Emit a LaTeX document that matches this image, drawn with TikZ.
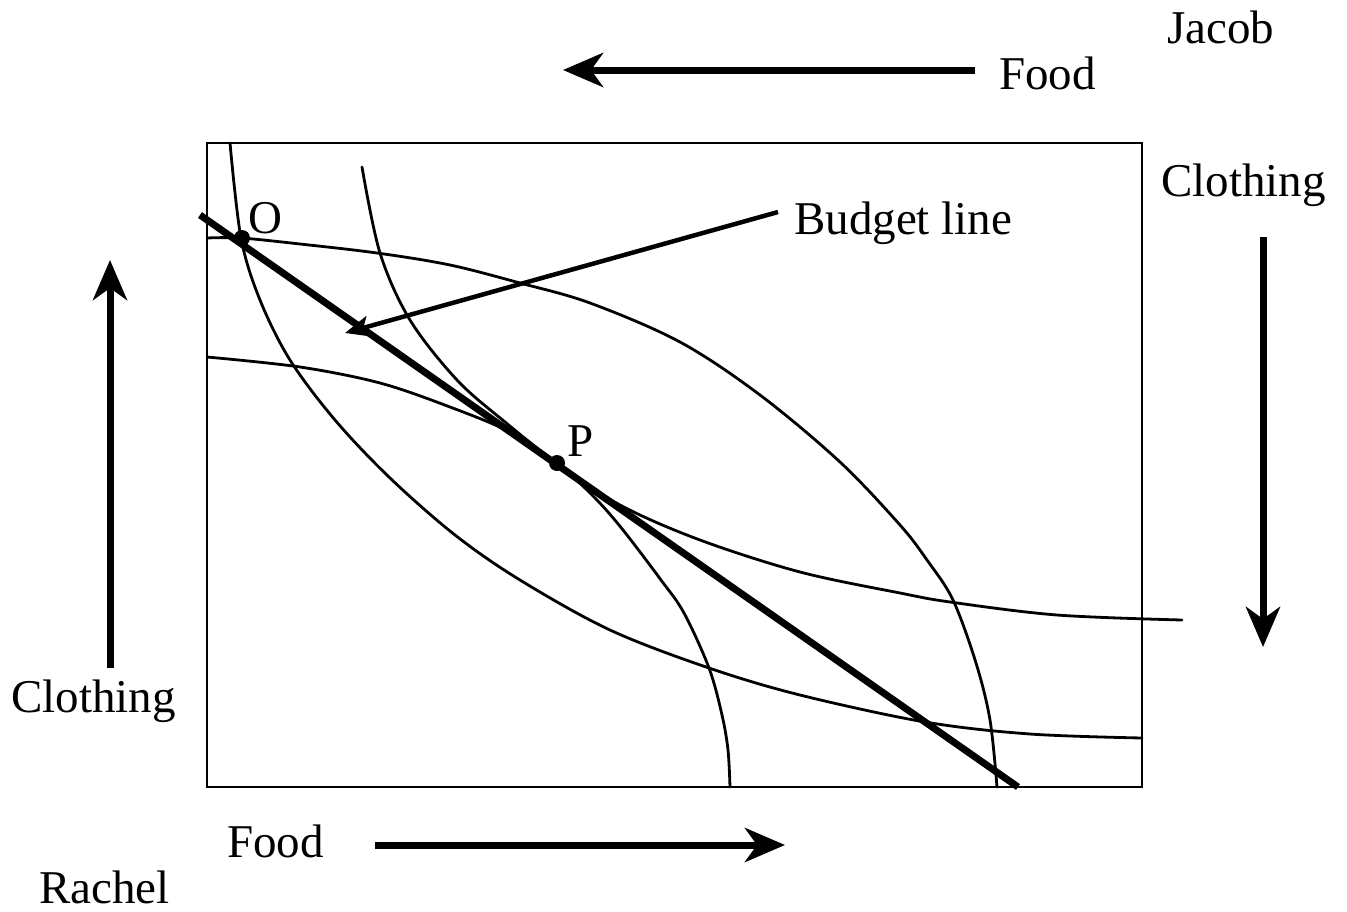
\documentclass[tikz,border=0pt]{standalone}
\usepackage{fontspec}
\setmainfont{Liberation Serif}
\usetikzlibrary{arrows.meta}
\begin{document}
\begin{tikzpicture}[x=1pt,y=-1pt,
  lbl/.style={anchor=base west,inner sep=0pt,font=\fontsize{47}{56}\selectfont},
  curve/.style={line width=2.8pt,line join=round,line cap=round},
  frame/.style={line width=2pt},
  budget/.style={line width=7pt},
  bigarrow/.style={line width=7pt,-{Stealth[length=40pt,width=34pt,inset=12pt]}},
  smallarrow/.style={line width=4.5pt,-{Stealth[length=25pt,width=21pt,inset=6pt]}},
  dot/.style={circle,fill,inner sep=0pt,minimum size=16pt}]
\useasboundingbox (0,0) rectangle (1347,911);
% box
\draw[frame] (207,143) rectangle (1142,787);
% Rachel's curve through O
\draw[curve] plot[smooth,tension=0.55] coordinates {(230,143) (241,238) (260,300) (290,360) (335,420) (390,478) (455,535) (520,580) (610,630) (709,668) (800,695) (925,722) (1030,734) (1142,738)};
% Rachel's curve through P
\draw[curve] plot[smooth,tension=0.55] coordinates {(362,167) (380,253) (410,320) (457,380) (505,422) (557,463) (620,505) (700,540) (800,572) (900,593) (950,602) (1057,615) (1182,620)};
% Jacob's curve through O
\draw[curve] plot[smooth,tension=0.55] coordinates {(207,238) (241,238) (300,244) (377,253) (450,265) (520,283) (590,303) (680,342) (760,395) (840,462) (900,525) (927,560) (953,600) (976,663) (990,720) (997,787)};
% Jacob's curve through P
\draw[curve] plot[smooth,tension=0.55] coordinates {(207,357) (300,367) (380,383) (450,407) (510,432) (557,463) (595,498) (623,530) (661,580) (684,613) (709,668) (722,715) (728,750) (730,787)};
% budget line
\coordinate (b1) at (200,215);
\coordinate (b2) at (1018,787);
\draw[budget] (b1) -- (b2);
% points
\node[dot] (O) at (242,238) {};
\node[dot] (P) at (557,463) {};
\node[lbl] (Olbl) at (248,233) {O};
\node[lbl] (Plbl) at (567,456) {P};
% labels
\node[lbl] (jacob) at (1167,43) {Jacob};
\node[lbl] (foodtop) at (999,89) {Food};
\node[lbl] (clothr) at (1161,196) {Clothing};
\node[lbl] (bl) at (794,234) {Budget line};
\node[lbl] (clothl) at (11,712) {Clothing};
\node[lbl] (foodbot) at (227,857) {Food};
\node[lbl] (rachel) at (39,903) {Rachel};
% budget-line pointer
\coordinate (ba1) at (778,212);
\coordinate (ba2) at (345,333);
\draw[smallarrow] (ba1) -- (ba2);
% axis arrows
\coordinate (ft1) at (975,70);
\coordinate (ft2) at (563,70);
\draw[bigarrow] (ft1) -- (ft2);
\coordinate (cl1) at (110,668);
\coordinate (cl2) at (110,260);
\draw[bigarrow] (cl1) -- (cl2);
\coordinate (cr1) at (1263,237);
\coordinate (cr2) at (1263,647);
\draw[bigarrow] (cr1) -- (cr2);
\coordinate (fb1) at (375,845);
\coordinate (fb2) at (785,845);
\draw[bigarrow] (fb1) -- (fb2);
\end{tikzpicture}
\end{document}
